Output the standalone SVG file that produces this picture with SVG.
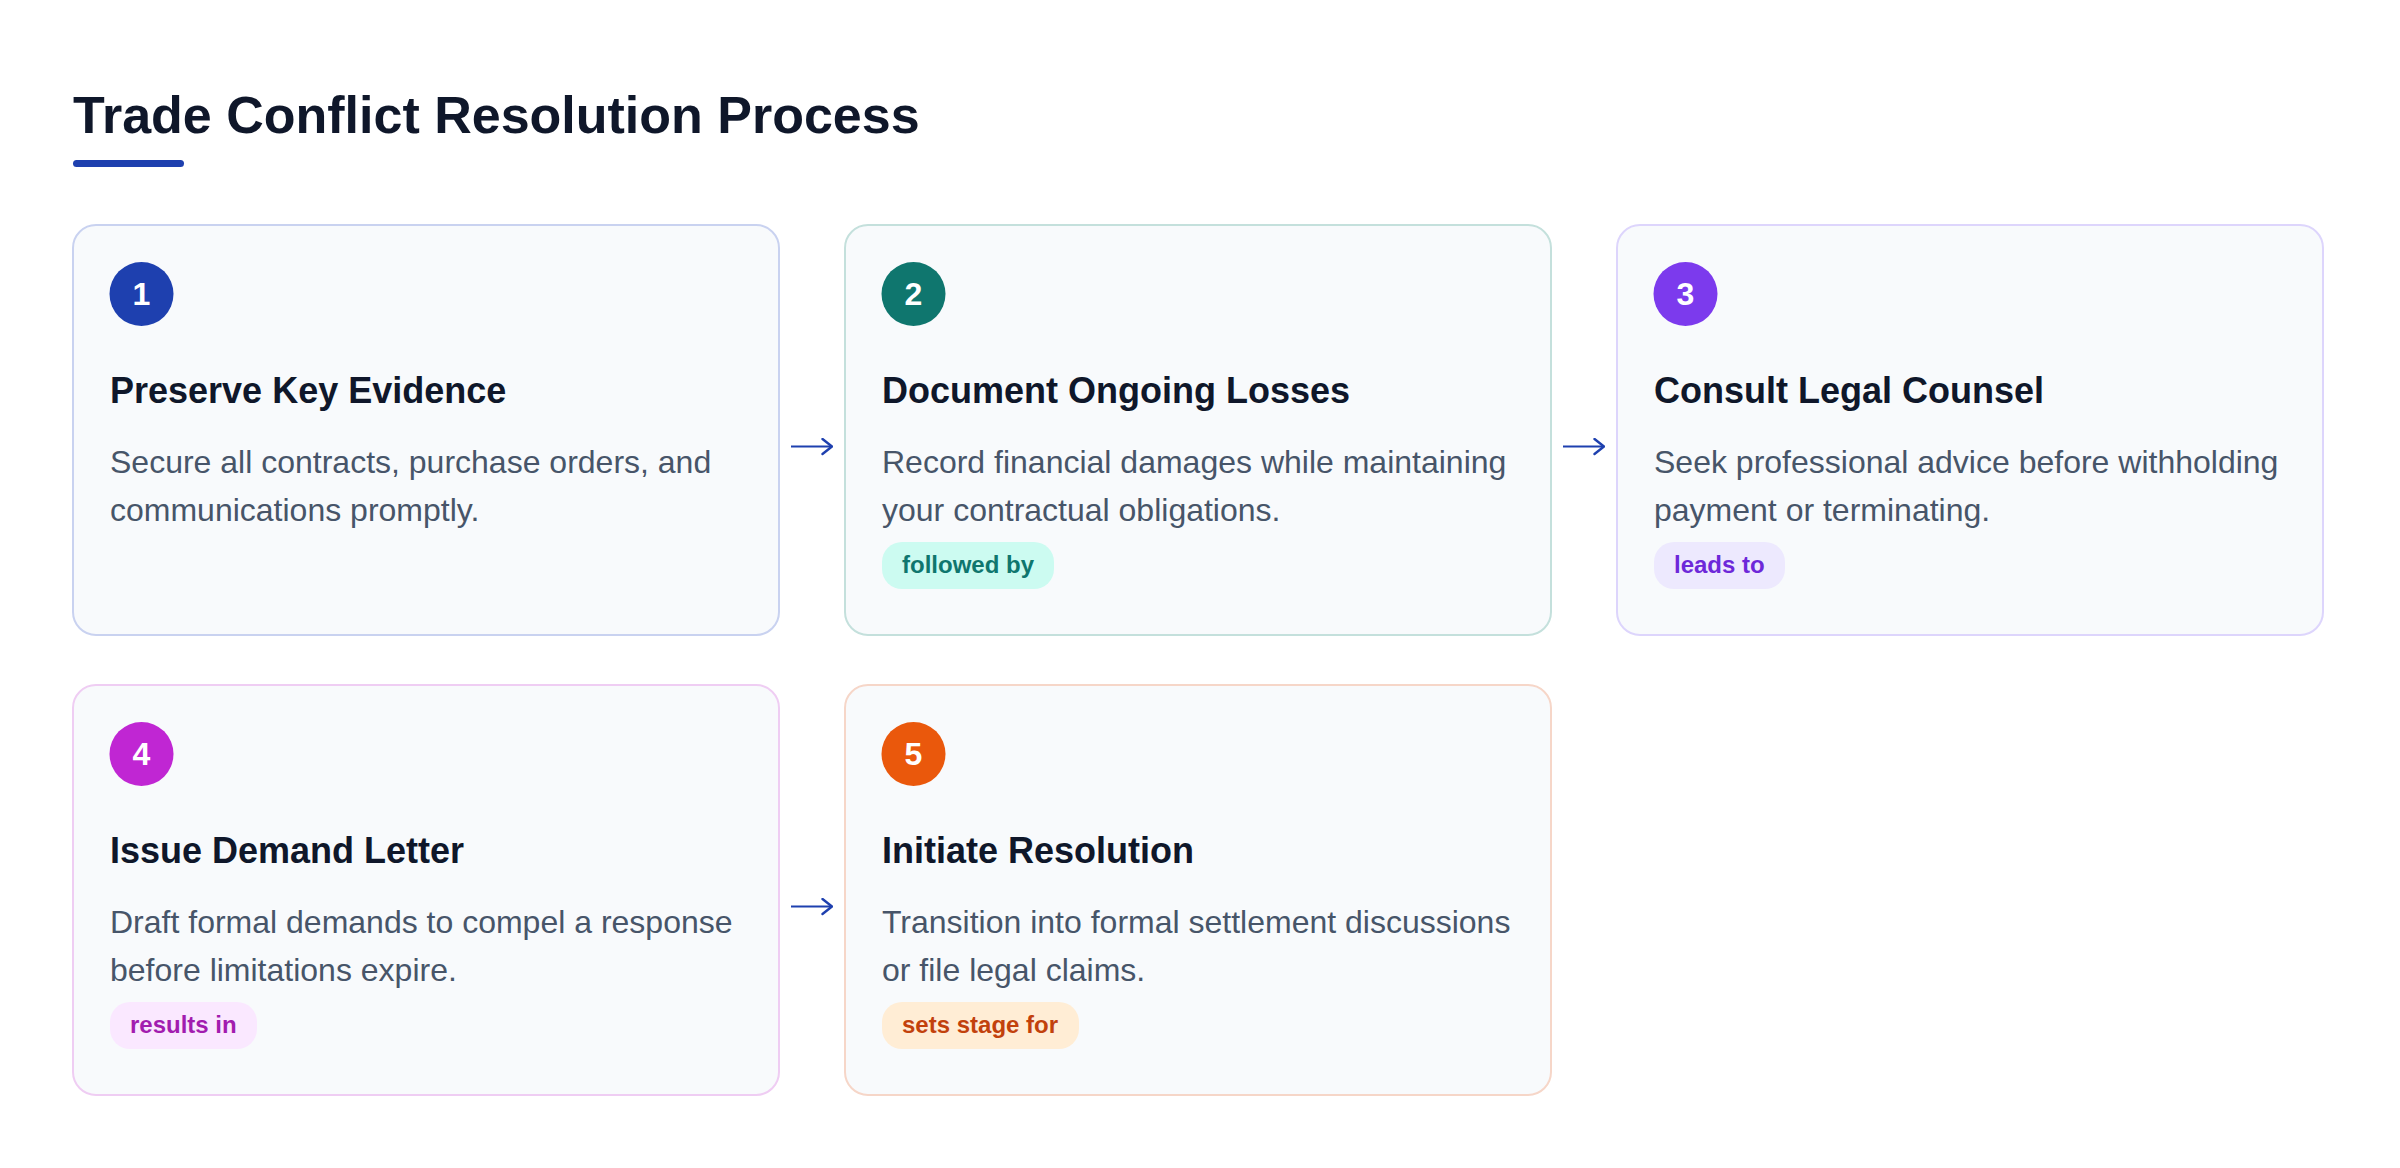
<svg xmlns="http://www.w3.org/2000/svg" width="2400" height="1168" viewBox="0 0 2400 1168">
<defs>
<style>
.bg{fill:#ffffff}
.title{font-family:"Liberation Sans",Arial,sans-serif;font-weight:700;font-size:52px;fill:#0f172a}
.card{fill:#f8fafc;stroke-width:2}
.num{font-family:"Liberation Sans",Arial,sans-serif;font-weight:700;font-size:32px;fill:#ffffff;text-anchor:middle}
.head{font-family:"Liberation Sans",Arial,sans-serif;font-weight:700;font-size:36px;fill:#0f172a}
.desc{font-family:"Liberation Sans",Arial,sans-serif;font-size:32px;fill:#475569}
.pill{font-family:"Liberation Sans",Arial,sans-serif;font-weight:700;font-size:24px}
.conn{stroke:#1e40af;stroke-width:2.2;fill:none;marker-end:url(#ah)}
</style>
<marker id="ah" viewBox="0 0 12 18" refX="11" refY="9" markerWidth="12" markerHeight="18" markerUnits="userSpaceOnUse" orient="auto">
<path d="M1.5 1.5 L11 9 L1.5 16.5" fill="none" stroke="#1e40af" stroke-width="2.4" stroke-linecap="round" stroke-linejoin="miter"/>
</marker>
</defs>
<rect class="bg" x="0" y="0" width="2400" height="1168"/>
<g id="header">
<text class="title" x="73" y="133">Trade Conflict Resolution Process</text>
<rect x="73" y="160" width="111" height="7" rx="3.5" fill="#1e40af"/>
</g>
<g id="connectors">
<path class="conn" d="M791 446.5 L832 446.5"/>
<path class="conn" d="M1563 446.5 L1604 446.5"/>
<path class="conn" d="M791 906.5 L832 906.5"/>
</g>
<g id="node1">
<rect class="card" x="73" y="225" width="706" height="410" rx="23" stroke="#c9d2f0"/>
<circle cx="141.5" cy="294" r="32" fill="#1e40af"/>
<text class="num" x="141.5" y="305">1</text>
<text class="head" x="110" y="403">Preserve Key Evidence</text>
<text class="desc" x="110" y="473">Secure all contracts, purchase orders, and</text>
<text class="desc" x="110" y="521">communications promptly.</text>
</g>
<g id="node2">
<rect class="card" x="845" y="225" width="706" height="410" rx="23" stroke="#c4e0dc"/>
<circle cx="913.5" cy="294" r="32" fill="#0f766e"/>
<text class="num" x="913.5" y="305">2</text>
<text class="head" x="882" y="403">Document Ongoing Losses</text>
<text class="desc" x="882" y="473">Record financial damages while maintaining</text>
<text class="desc" x="882" y="521">your contractual obligations.</text>
<rect x="882" y="542" width="172" height="47" rx="20" fill="#ccfbf1"/>
<text class="pill" x="902" y="573" fill="#0f766e">followed by</text>
</g>
<g id="node3">
<rect class="card" x="1617" y="225" width="706" height="410" rx="23" stroke="#ddd5fc"/>
<circle cx="1685.5" cy="294" r="32" fill="#7c3aed"/>
<text class="num" x="1685.5" y="305">3</text>
<text class="head" x="1654" y="403">Consult Legal Counsel</text>
<text class="desc" x="1654" y="473">Seek professional advice before withholding</text>
<text class="desc" x="1654" y="521">payment or terminating.</text>
<rect x="1654" y="542" width="131" height="47" rx="20" fill="#ede9fe"/>
<text class="pill" x="1674" y="573" fill="#6d28d9">leads to</text>
</g>
<g id="node4">
<rect class="card" x="73" y="685" width="706" height="410" rx="23" stroke="#efcdf3"/>
<circle cx="141.5" cy="754" r="32" fill="#c026d3"/>
<text class="num" x="141.5" y="765">4</text>
<text class="head" x="110" y="863">Issue Demand Letter</text>
<text class="desc" x="110" y="933">Draft formal demands to compel a response</text>
<text class="desc" x="110" y="981">before limitations expire.</text>
<rect x="110" y="1002" width="147" height="47" rx="20" fill="#fae8ff"/>
<text class="pill" x="130" y="1033" fill="#a21caf">results in</text>
</g>
<g id="node5">
<rect class="card" x="845" y="685" width="706" height="410" rx="23" stroke="#f6d6c8"/>
<circle cx="913.5" cy="754" r="32" fill="#ea580c"/>
<text class="num" x="913.5" y="765">5</text>
<text class="head" x="882" y="863">Initiate Resolution</text>
<text class="desc" x="882" y="933">Transition into formal settlement discussions</text>
<text class="desc" x="882" y="981">or file legal claims.</text>
<rect x="882" y="1002" width="197" height="47" rx="20" fill="#ffedd5"/>
<text class="pill" x="902" y="1033" fill="#c2410c">sets stage for</text>
</g>
</svg>
